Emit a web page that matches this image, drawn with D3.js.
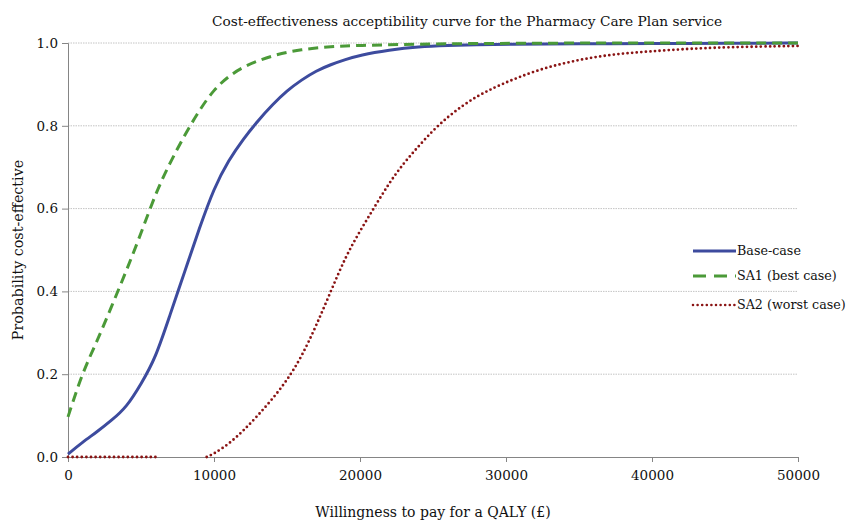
<!DOCTYPE html>
<html>
<head>
<meta charset="utf-8">
<script src="https://cdn.jsdelivr.net/npm/d3@7/dist/d3.min.js"></script>
<style>
  html, body { margin: 0; padding: 0; background: #fff; }
  svg { display: block; }
  text { font-family: "DejaVu Serif", serif; fill: #111; }
</style>
</head>
<body>
<svg id="chart" width="847" height="520"></svg>
<script>
// ---- Data (willingness to pay in £, probability cost-effective) ----
const wtp = [0, 1000, 2000, 3000, 4000, 5000, 6000, 7000, 8000, 9000, 10000,
  11000, 12000, 13000, 14000, 15000, 16000, 17000, 18000, 19000, 20000,
  22000, 24000, 26000, 28000, 30000, 35000, 40000, 45000, 50000];
const baseCase = [0.007, 0.036, 0.061, 0.089, 0.12, 0.176, 0.239, 0.345, 0.448, 0.553, 0.65,
  0.717, 0.768, 0.812, 0.851, 0.885, 0.911, 0.933, 0.948, 0.96, 0.971,
  0.983, 0.991, 0.994, 0.996, 0.997, 0.998, 0.999, 0.999, 1.0];
const sa1 = [0.097, 0.205, 0.28, 0.365, 0.45, 0.54, 0.637, 0.712, 0.778, 0.838, 0.888,
  0.92, 0.942, 0.957, 0.969, 0.978, 0.984, 0.988, 0.991, 0.993, 0.994,
  0.996, 0.997, 0.998, 0.999, 0.999, 1.0, 1.0, 1.0, 1.0];
const wtpSA2 = [0, 1000, 2000, 3000, 4000, 5000, 6000, 7000, 9500, 10000,
  11000, 12000, 13000, 14000, 15000, 16000, 17000, 18000, 19000, 20000,
  21000, 22000, 23000, 24000, 25000, 26000, 27000, 28000, 29000, 30000,
  32000, 34000, 36000, 38000, 40000, 42000, 45000, 50000];
const sa2 = [0, 0, 0, 0, 0, 0, 0, null, 0, 0.008,
  0.031, 0.063, 0.1, 0.14, 0.185, 0.242, 0.317, 0.40, 0.483, 0.546,
  0.604, 0.662, 0.71, 0.75, 0.789, 0.821, 0.848, 0.871, 0.889, 0.905,
  0.933, 0.952, 0.966, 0.975, 0.98, 0.985, 0.99, 0.993];
const xTicks = [0, 10000, 20000, 30000, 40000, 50000];
const yTicks = [0.0, 0.2, 0.4, 0.6, 0.8, 1.0];
const seriesNames = ["Base-case", "SA1 (best case)", "SA2 (worst case)"];

const svg = d3.select("#chart");
const margin = {left: 68, top: 43, right: 49, bottom: 63};
const W = 847, H = 520;
const x = d3.scaleLinear().domain([0, 50000]).range([margin.left, W - margin.right]);
const y = d3.scaleLinear().domain([0, 1]).range([H - margin.bottom, margin.top]);

// gridlines
svg.append("g").selectAll("line").data(yTicks.filter(d => d > 0)).join("line")
  .attr("x1", x(0)).attr("x2", x(50000))
  .attr("y1", d => y(d)).attr("y2", d => y(d))
  .attr("stroke", "#c4c4c4").attr("stroke-width", 1).attr("stroke-dasharray", "1.5,1");

// axes
const xAxis = svg.append("g").attr("transform", `translate(0,${y(0)})`)
  .call(d3.axisBottom(x).tickValues(xTicks).tickFormat(d3.format("d")).tickSize(5).tickPadding(8));
const yAxis = svg.append("g").attr("transform", `translate(${x(0)},0)`)
  .call(d3.axisLeft(y).tickValues(yTicks).tickFormat(d3.format(".1f")).tickSize(6).tickPadding(4));
[xAxis, yAxis].forEach(a => {
  a.selectAll("path, line").attr("stroke", "#858585").attr("stroke-width", 1);
  a.selectAll("text").style("font-family", '"DejaVu Serif", serif').style("font-size", "13.5px").attr("fill", "#111");
});

// lines
const mk = () => d3.line()
  .defined(d => d[1] !== null)
  .x(d => x(d[0])).y(d => y(d[1]))
  .curve(d3.curveBasis);

const baseData = wtp.map((v, i) => [v, baseCase[i]]);
const sa1Data = wtp.map((v, i) => [v, sa1[i]]);
const sa2Data = wtpSA2.map((v, i) => [v, sa2[i]]);

const styles = [
  {color: "#3d4b9e", dash: null, cap: "butt"},
  {color: "#4b9a38", dash: "10,6", cap: "butt"},
  {color: "#8a1414", dash: "0,4.6", cap: "round"}
];

svg.append("path").datum(sa2Data).attr("d", mk()).attr("fill", "none")
  .attr("stroke", styles[2].color).attr("stroke-width", 2.8)
  .attr("stroke-dasharray", styles[2].dash).attr("stroke-linecap", "round");
svg.append("path").datum(baseData).attr("d", mk()).attr("fill", "none")
  .attr("stroke", styles[0].color).attr("stroke-width", 3);
svg.append("path").datum(sa1Data).attr("d", mk()).attr("fill", "none")
  .attr("stroke", styles[1].color).attr("stroke-width", 3)
  .attr("stroke-dasharray", styles[1].dash);

// legend
const legY = [251, 276, 305];
const leg = svg.append("g");
seriesNames.forEach((name, i) => {
  leg.append("line").attr("x1", 693).attr("x2", 736).attr("y1", legY[i]).attr("y2", legY[i])
    .attr("stroke", styles[i].color).attr("stroke-width", i === 2 ? 2.6 : 3)
    .attr("stroke-dasharray", i === 1 ? "13,8" : styles[i].dash)
    .attr("stroke-linecap", styles[i].cap);
  leg.append("text").attr("x", 737).attr("y", legY[i]).attr("dy", "0.35em")
    .style("font-size", "12.7px").text(name);
});

// titles
svg.append("text").attr("x", 467).attr("y", 21).attr("dy", "0.35em")
  .attr("text-anchor", "middle").style("font-size", "13.7px")
  .text("Cost-effectiveness acceptibility curve for the Pharmacy Care Plan service");
svg.append("text").attr("x", 433).attr("y", 512).attr("dy", "0.35em")
  .attr("text-anchor", "middle").style("font-size", "14px")
  .text("Willingness to pay for a QALY (£)");
svg.append("text").attr("transform", `translate(18,${(y(0) + y(1)) / 2}) rotate(-90)`)
  .attr("dy", "0.35em").attr("text-anchor", "middle").style("font-size", "14.3px")
  .text("Probability cost-effective");
</script>
</body>
</html>
